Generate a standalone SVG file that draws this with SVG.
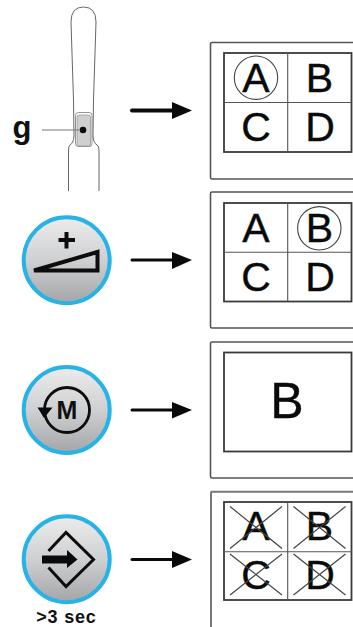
<svg xmlns="http://www.w3.org/2000/svg" width="353" height="627" viewBox="0 0 353 627">
  <style>
    .outer { fill: none; stroke: #555; stroke-width: 1.6; }
    .inner { fill: none; stroke: #3a3a3a; stroke-width: 1.8; }
    .div { fill: none; stroke: #555; stroke-width: 1.1; }
    .ring { fill: none; stroke: #444; stroke-width: 1.1; }
    .cross { fill: none; stroke: #444; stroke-width: 1.2; }
    .letter { font-family: "Liberation Sans", Arial, sans-serif; font-size: 41px; text-anchor: middle; fill: #0a0a0a; stroke: #0a0a0a; stroke-width: 0.4; }
    .bold { font-family: "Liberation Sans", Arial, sans-serif; font-weight: bold; text-anchor: middle; fill: #111; }
    .btn { fill: url(#metal); stroke: #27b3e6; stroke-width: 4; }
    .glyph { fill: none; stroke: #0d0d0d; }
    .shaft { stroke: #0a0a0a; fill: none; stroke-linecap: round; }
    .head { fill: #0a0a0a; }
    .wire { fill: none; stroke: #555; stroke-width: 0.9; }
  </style>
  <defs>
    <linearGradient id="metal" x1="0" y1="0" x2="0" y2="1">
      <stop offset="0" stop-color="#ececec"/>
      <stop offset="0.5" stop-color="#cfd0d2"/>
      <stop offset="1" stop-color="#a4a5a7"/>
    </linearGradient>
  </defs>
  <rect width="353" height="627" fill="#fff"/>

  <g id="handset">
    <path class="wire" d="M68.500 191V150Q68.500 146 70 145Q73.500 143 74 136L73.500 100L71 22Q71 7 83.500 7Q96 7 96 22L93.500 100L93 136Q93.500 143 97 145Q99 146 99 150V191"/>
    <rect x="75.500" y="112.500" width="16.500" height="34" rx="3" fill="#fff" stroke="#777" stroke-width="0.800"/>
    <rect x="77" y="115" width="13.500" height="31" rx="2" fill="#cfcfcf" stroke="#999" stroke-width="0.800"/>
    <circle cx="83" cy="130" r="3.300" fill="#0a0a0a"/>
    <path d="M42 130H79" stroke="#777" stroke-width="1.200" fill="none"/>
    <text class="bold" x="22" y="138" font-size="31">g</text>
  </g>

  <g id="button-plus">
    <circle class="btn" cx="66.700" cy="260.300" r="43"/>
    <path class="glyph" stroke-width="4" d="M58.500 240H75M66.500 232V248.500"/>
    <path class="glyph" stroke-width="4" d="M34 270.500L97.500 252V270.500Z"/>
  </g>

  <g id="button-menu">
    <circle class="btn" cx="66.700" cy="410" r="43"/>
    <circle class="glyph" stroke-width="2.800" cx="67" cy="410" r="22.500"/>
    <path class="head" d="M37.500 407.500H52.500L44 418Z"/>
    <text class="bold" x="67" y="419" font-size="25">M</text>
  </g>

  <g id="button-enter">
    <circle class="btn" cx="66.700" cy="559.300" r="43"/>
    <path class="glyph" stroke-width="3" d="M48.500 551L66 532.500L93.500 559.500L66 586.500L48.500 567.500"/>
    <path class="head" d="M42 555.500H67V550L77.500 559.500L67 568V563.500H42Z"/>
    <text class="bold" x="66.500" y="622.500" font-size="18" letter-spacing="0.800">&gt;3 sec</text>
  </g>

  <g id="connectors">
    <path class="shaft" stroke-width="4" d="M132 110.500H173"/>
    <path class="head" d="M172 102L192 110.500L172 119Z"/>
    <path class="shaft" stroke-width="3" d="M132 260H173"/>
    <path class="head" d="M172 252L192 260L172 269Z"/>
    <path class="shaft" stroke-width="3" d="M132 410H173"/>
    <path class="head" d="M172 402L192 410L172 418.500Z"/>
    <path class="shaft" stroke-width="3" d="M132 559.500H173"/>
    <path class="head" d="M172 551L192 559.500L172 568Z"/>
  </g>

  <g id="screen-a">
    <path class="outer" d="M353 42.500H212Q210.500 42.500 210.500 44V177.500Q210.500 179 212 179H353"/>
    <rect class="inner" x="224" y="53" width="127.500" height="99"/>
    <path class="div" d="M287.700 53V152M224 102.500H351.500"/>
    <circle class="ring" cx="256" cy="77.700" r="21.700"/>
    <text class="letter" x="256" y="91.700">A</text>
    <text class="letter" x="319.500" y="91.700">B</text>
    <text class="letter" x="256" y="140.700">C</text>
    <text class="letter" x="320" y="140.700">D</text>
  </g>

  <g id="screen-b">
    <path class="outer" d="M353 192H212Q210.500 192 210.500 193.500V326.500Q210.500 328 212 328H353"/>
    <rect class="inner" x="224" y="203" width="127.500" height="98.500"/>
    <path class="div" d="M287.700 203V301.500M224 252.300H351.500"/>
    <circle class="ring" cx="319.300" cy="228.300" r="21.700"/>
    <text class="letter" x="256" y="241.500">A</text>
    <text class="letter" x="319.500" y="241.500">B</text>
    <text class="letter" x="256" y="290.500">C</text>
    <text class="letter" x="320" y="290.500">D</text>
  </g>

  <g id="screen-full">
    <path class="outer" d="M353 342H212Q210.500 342 210.500 343.500V476.500Q210.500 478 212 478H353"/>
    <rect class="inner" x="224" y="352.500" width="127.500" height="99"/>
    <text class="letter" x="287" y="417.500" style="font-size:50px">B</text>
  </g>

  <g id="screen-off">
    <path class="outer" style="stroke:#777;stroke-width:2" d="M353 491.800H212Q211 491.800 211 493V627"/>
    <rect class="inner" x="224" y="502" width="127.500" height="98"/>
    <path class="div" d="M287.700 502V600M224 551.700H351.500"/>
    <text class="letter" x="256" y="540">A</text>
    <text class="letter" x="319.500" y="540">B</text>
    <text class="letter" x="256" y="588.500">C</text>
    <text class="letter" x="320" y="588.500">D</text>
    <path class="cross" d="M230 506.500L282 548.500M282 506.500L230 548.500M293.500 506.500L345.500 548.500M345.500 506.500L293.500 548.500M230 554L282 595M282 554L230 595M293.500 554L345.500 595M345.500 554L293.500 595"/>
  </g>
</svg>
